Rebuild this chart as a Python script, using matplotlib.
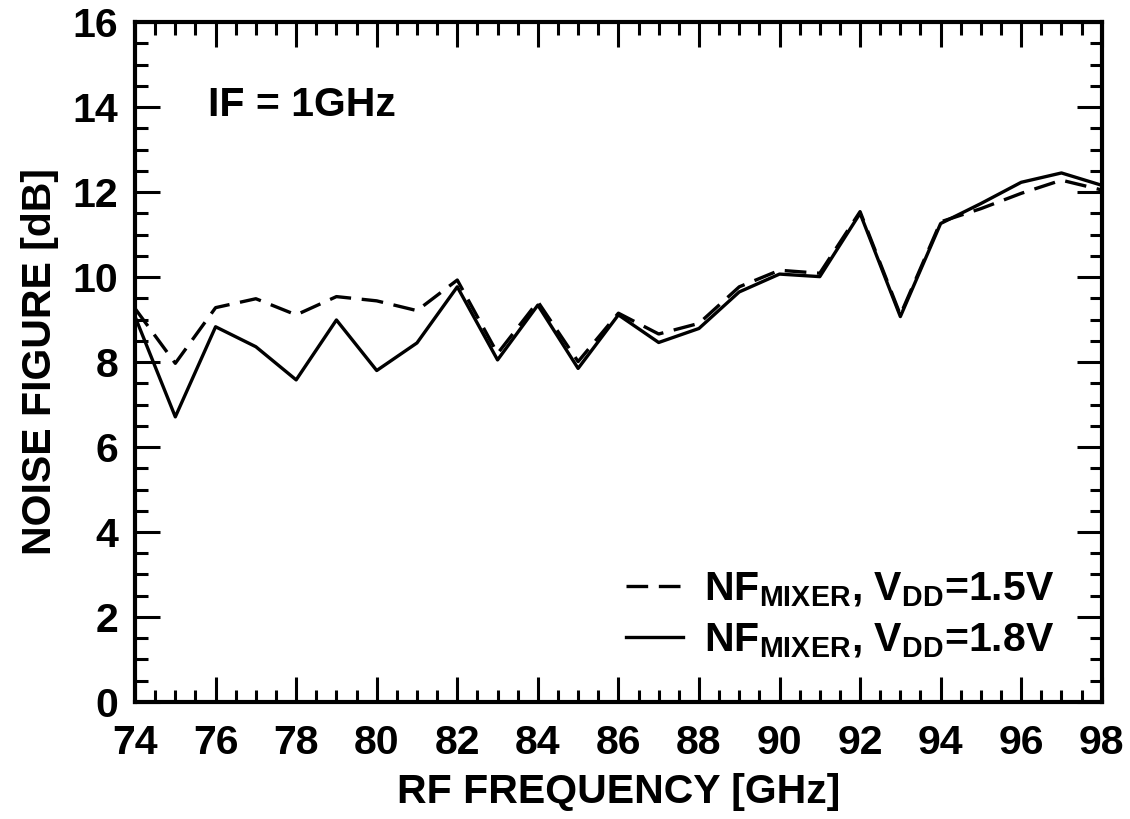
import matplotlib
matplotlib.use("Agg")
import matplotlib.pyplot as plt
from matplotlib.ticker import MultipleLocator

plt.rcParams['font.family'] = ['Liberation Sans', 'DejaVu Sans']
plt.rcParams['font.weight'] = 'bold'
plt.rcParams['mathtext.fontset'] = 'custom'
plt.rcParams['mathtext.rm'] = 'Liberation Sans:bold'
plt.rcParams['mathtext.bf'] = 'Liberation Sans:bold'

freq = list(range(74, 99))
nf_15 = [9.26, 7.97, 9.28, 9.49, 9.11, 9.54, 9.44, 9.21, 9.93, 8.20, 9.42, 8.01,
         9.15, 8.66, 8.91, 9.77, 10.16, 10.09, 11.54, 9.11, 11.30, 11.61, 11.97,
         12.28, 12.05]
nf_18 = [9.07, 6.71, 8.83, 8.36, 7.58, 8.99, 7.80, 8.45, 9.77, 8.05, 9.34, 7.85,
         9.11, 8.46, 8.79, 9.65, 10.07, 10.01, 11.50, 9.07, 11.26, 11.73, 12.23,
         12.45, 12.16]

fig = plt.figure(figsize=(11.3, 8.19), dpi=100)
ax = fig.add_axes([0.1195, 0.1429, 0.8555, 0.8301])

ax.plot(freq, nf_15, color='black', lw=2.4, linestyle=(0, (6.5, 3.2)),
        label=r'NF$_{\mathrm{MIXER}}$, V$_{\mathrm{DD}}$=1.5V')
ax.plot(freq, nf_18, color='black', lw=2.4,
        label=r'NF$_{\mathrm{MIXER}}$, V$_{\mathrm{DD}}$=1.8V')

ax.set_xlim(74, 98)
ax.set_ylim(0, 16)
ax.xaxis.set_major_locator(MultipleLocator(2))
ax.xaxis.set_minor_locator(MultipleLocator(0.5))
ax.yaxis.set_major_locator(MultipleLocator(2))
ax.yaxis.set_minor_locator(MultipleLocator(0.5))
ax.tick_params(which='both', direction='in', top=True, right=True,
               labelsize=29.5, width=2.2)
ax.tick_params(axis='x', pad=16)
ax.tick_params(axis='y', pad=12)
ax.tick_params(which='major', length=18)
ax.tick_params(which='minor', length=9)
for s in ax.spines.values():
    s.set_linewidth(3)

ax.set_xlabel('RF FREQUENCY [GHz]', fontsize=29.5, fontweight='bold', labelpad=8)
ax.set_ylabel('NOISE FIGURE [dB]', fontsize=29.5, fontweight='bold', labelpad=10)

ax.text(75.8, 14.05, 'IF = 1GHz', fontsize=29.5, fontweight='bold', va='center')

ax.legend(loc='lower right', frameon=False, fontsize=29.5, handlelength=1.4,
          handletextpad=0.5, labelspacing=0.3, borderaxespad=0.3,
          bbox_to_anchor=(0.98, 0.02))

fig.savefig('out.png', dpi=100)
